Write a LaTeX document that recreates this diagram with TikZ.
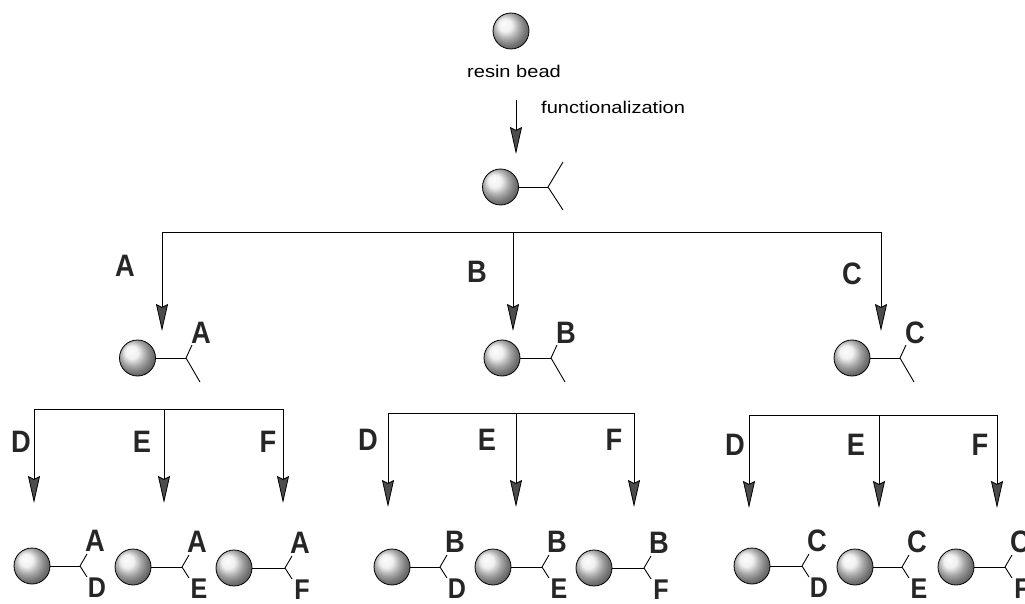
\documentclass[tikz,border=0pt]{standalone}
\usepackage{fontspec}
\setsansfont{Liberation Sans}
\usetikzlibrary{arrows.meta,calc}

\tikzset{
  bead/.style={circle, draw=black, line width=0.8pt, minimum size=36pt, inner sep=0pt,
               shading=ball, ball color=gray!15},
  bond/.style={line width=0.9pt},
  flow/.style={line width=0.8pt, -{Stealth[length=27pt,width=12pt,inset=3pt,fill=black!70]}},
  branchline/.style={line width=0.8pt},
  lbl/.style={font=\sffamily\bfseries\fontsize{31}{31}\selectfont, text=black!85, inner sep=0pt},
  caption/.style={font=\sffamily\fontsize{17}{17}\selectfont, inner sep=0pt}
}

% narrow the bold letters slightly
\newcommand{\narrowcap}[1]{\scalebox{0.88}[1]{#1}}

% bead carrying a branched linker:
% #1 name, #2 bead x, #3 bead y, #4 junction x, #5 upper label, #6 lower label
\newcommand{\labelledfrag}[6]{%
  \node[bead] (#1) at (#2,#3) {};
  \coordinate (#1j) at (#4,#3);
  \coordinate (#1u) at ($(#1j)+(7,-12)$);
  \coordinate (#1d) at ($(#1j)+(7,11)$);
  \draw[bond] (#1) -- (#1j);
  \draw[bond] (#1j) -- (#1u);
  \draw[bond] (#1j) -- (#1d);
  \node[lbl] (#1ut) at ($(#1j)+(15,-25)$) {\narrowcap{#5}};
  \node[lbl] (#1dt) at ($(#1j)+(17,22)$) {\scalebox{0.92}{\narrowcap{#6}}};
}

% bead with one substituent; the other arm is left as a plain bond
\newcommand{\halffrag}[5]{%
  \node[bead] (#1) at (#2,#3) {};
  \coordinate (#1j) at (#4,#3);
  \coordinate (#1u) at ($(#1j)+(6,-13)$);
  \coordinate (#1d) at ($(#1j)+(14,24)$);
  \draw[bond] (#1) -- (#1j);
  \draw[bond] (#1j) -- (#1u);
  \draw[bond] (#1j) -- (#1d);
  \node[lbl] (#1ut) at ($(#1j)+(15,-25)$) {\narrowcap{#5}};
}

\begin{document}
\begin{tikzpicture}[x=1pt, y=-1pt]
  \useasboundingbox (0,0) rectangle (1025,604);
  \fill[white] (0,0) rectangle (1025,604);
  \clip (0,0) rectangle (1025,604);

  % starting resin bead
  \node[bead] (resin) at (511,31) {};
  \node[caption, anchor=base] (resintext) at (514,78) {\scalebox{1.18}[1]{resin bead}};

  % functionalization step
  \coordinate (fstart) at (516,100);
  \coordinate (fend) at (516,154);
  \draw[flow] (fstart) -- (fend);
  \node[caption, anchor=base west] (ftext) at (541,114) {\scalebox{1.18}[1]{functionalization}};

  % functionalized bead
  \node[bead] (fb) at (500.5,187) {};
  \coordinate (fbj) at (548,187);
  \coordinate (fbu) at (563,162);
  \coordinate (fbd) at (563,210);
  \draw[bond] (fb) -- (fbj);
  \draw[bond] (fbj) -- (fbu);
  \draw[bond] (fbj) -- (fbd);

  % first split: A, B, C
  \coordinate (s1l) at (162,232);
  \coordinate (s1m) at (513,232);
  \coordinate (s1r) at (881,232);
  \coordinate (tA) at (162,331);
  \coordinate (tB) at (513,331);
  \coordinate (tC) at (881,331);
  \draw[branchline] (s1l) -- (s1r);
  \draw[flow] (s1l) -- (tA);
  \draw[flow] (s1m) -- (tB);
  \draw[flow] (s1r) -- (tC);
  \node[lbl] (labA) at (125,266) {\narrowcap{A}};
  \node[lbl] (labB) at (477,272) {\narrowcap{B}};
  \node[lbl] (labC) at (852,274) {\narrowcap{C}};

  \halffrag{bA}{137.5}{358}{186}{A}
  \halffrag{bB}{502}{358}{551}{B}
  \halffrag{bC}{852}{358}{900}{C}

  % second split under A
  \coordinate (aD) at (34,409);  \coordinate (aE) at (164,409);  \coordinate (aF) at (283,409);
  \coordinate (aDt) at (34,503); \coordinate (aEt) at (164,503); \coordinate (aFt) at (283,503);
  \draw[branchline] (aD) -- (aF);
  \draw[flow] (aD) -- (aDt);
  \draw[flow] (aE) -- (aEt);
  \draw[flow] (aF) -- (aFt);
  \node[lbl] (aDl) at (21,442) {\narrowcap{D}};
  \node[lbl] (aEl) at (142,442) {\narrowcap{E}};
  \node[lbl] (aFl) at (268,442) {\narrowcap{F}};

  % second split under B
  \coordinate (bD) at (388,413);  \coordinate (bE) at (516,413);  \coordinate (bF) at (634,413);
  \coordinate (bDt) at (388,507); \coordinate (bEt) at (516,507); \coordinate (bFt) at (634,507);
  \draw[branchline] (bD) -- (bF);
  \draw[flow] (bD) -- (bDt);
  \draw[flow] (bE) -- (bEt);
  \draw[flow] (bF) -- (bFt);
  \node[lbl] (bDl) at (368,440) {\narrowcap{D}};
  \node[lbl] (bEl) at (487,440) {\narrowcap{E}};
  \node[lbl] (bFl) at (614,440) {\narrowcap{F}};

  % second split under C
  \coordinate (cD) at (749,415);  \coordinate (cE) at (879,415);  \coordinate (cF) at (997,415);
  \coordinate (cDt) at (749,508); \coordinate (cEt) at (879,508); \coordinate (cFt) at (997,508);
  \draw[branchline] (cD) -- (cF);
  \draw[flow] (cD) -- (cDt);
  \draw[flow] (cE) -- (cEt);
  \draw[flow] (cF) -- (cFt);
  \node[lbl] (cDl) at (735,445) {\narrowcap{D}};
  \node[lbl] (cEl) at (856,445) {\narrowcap{E}};
  \node[lbl] (cFl) at (980,445) {\narrowcap{F}};

  % final products
  \labelledfrag{pAD}{32}{566}{80}{A}{D}
  \labelledfrag{pAE}{133}{567}{182}{A}{E}
  \labelledfrag{pAF}{234}{568}{285}{A}{F}

  \labelledfrag{pBD}{392}{567}{440}{B}{D}
  \labelledfrag{pBE}{493}{567}{542}{B}{E}
  \labelledfrag{pBF}{594}{568}{644}{B}{F}

  \labelledfrag{pCD}{752}{566}{802}{C}{D}
  \labelledfrag{pCE}{855}{567}{902}{C}{E}
  \labelledfrag{pCF}{956}{567}{1005}{C}{F}
\end{tikzpicture}
\end{document}
